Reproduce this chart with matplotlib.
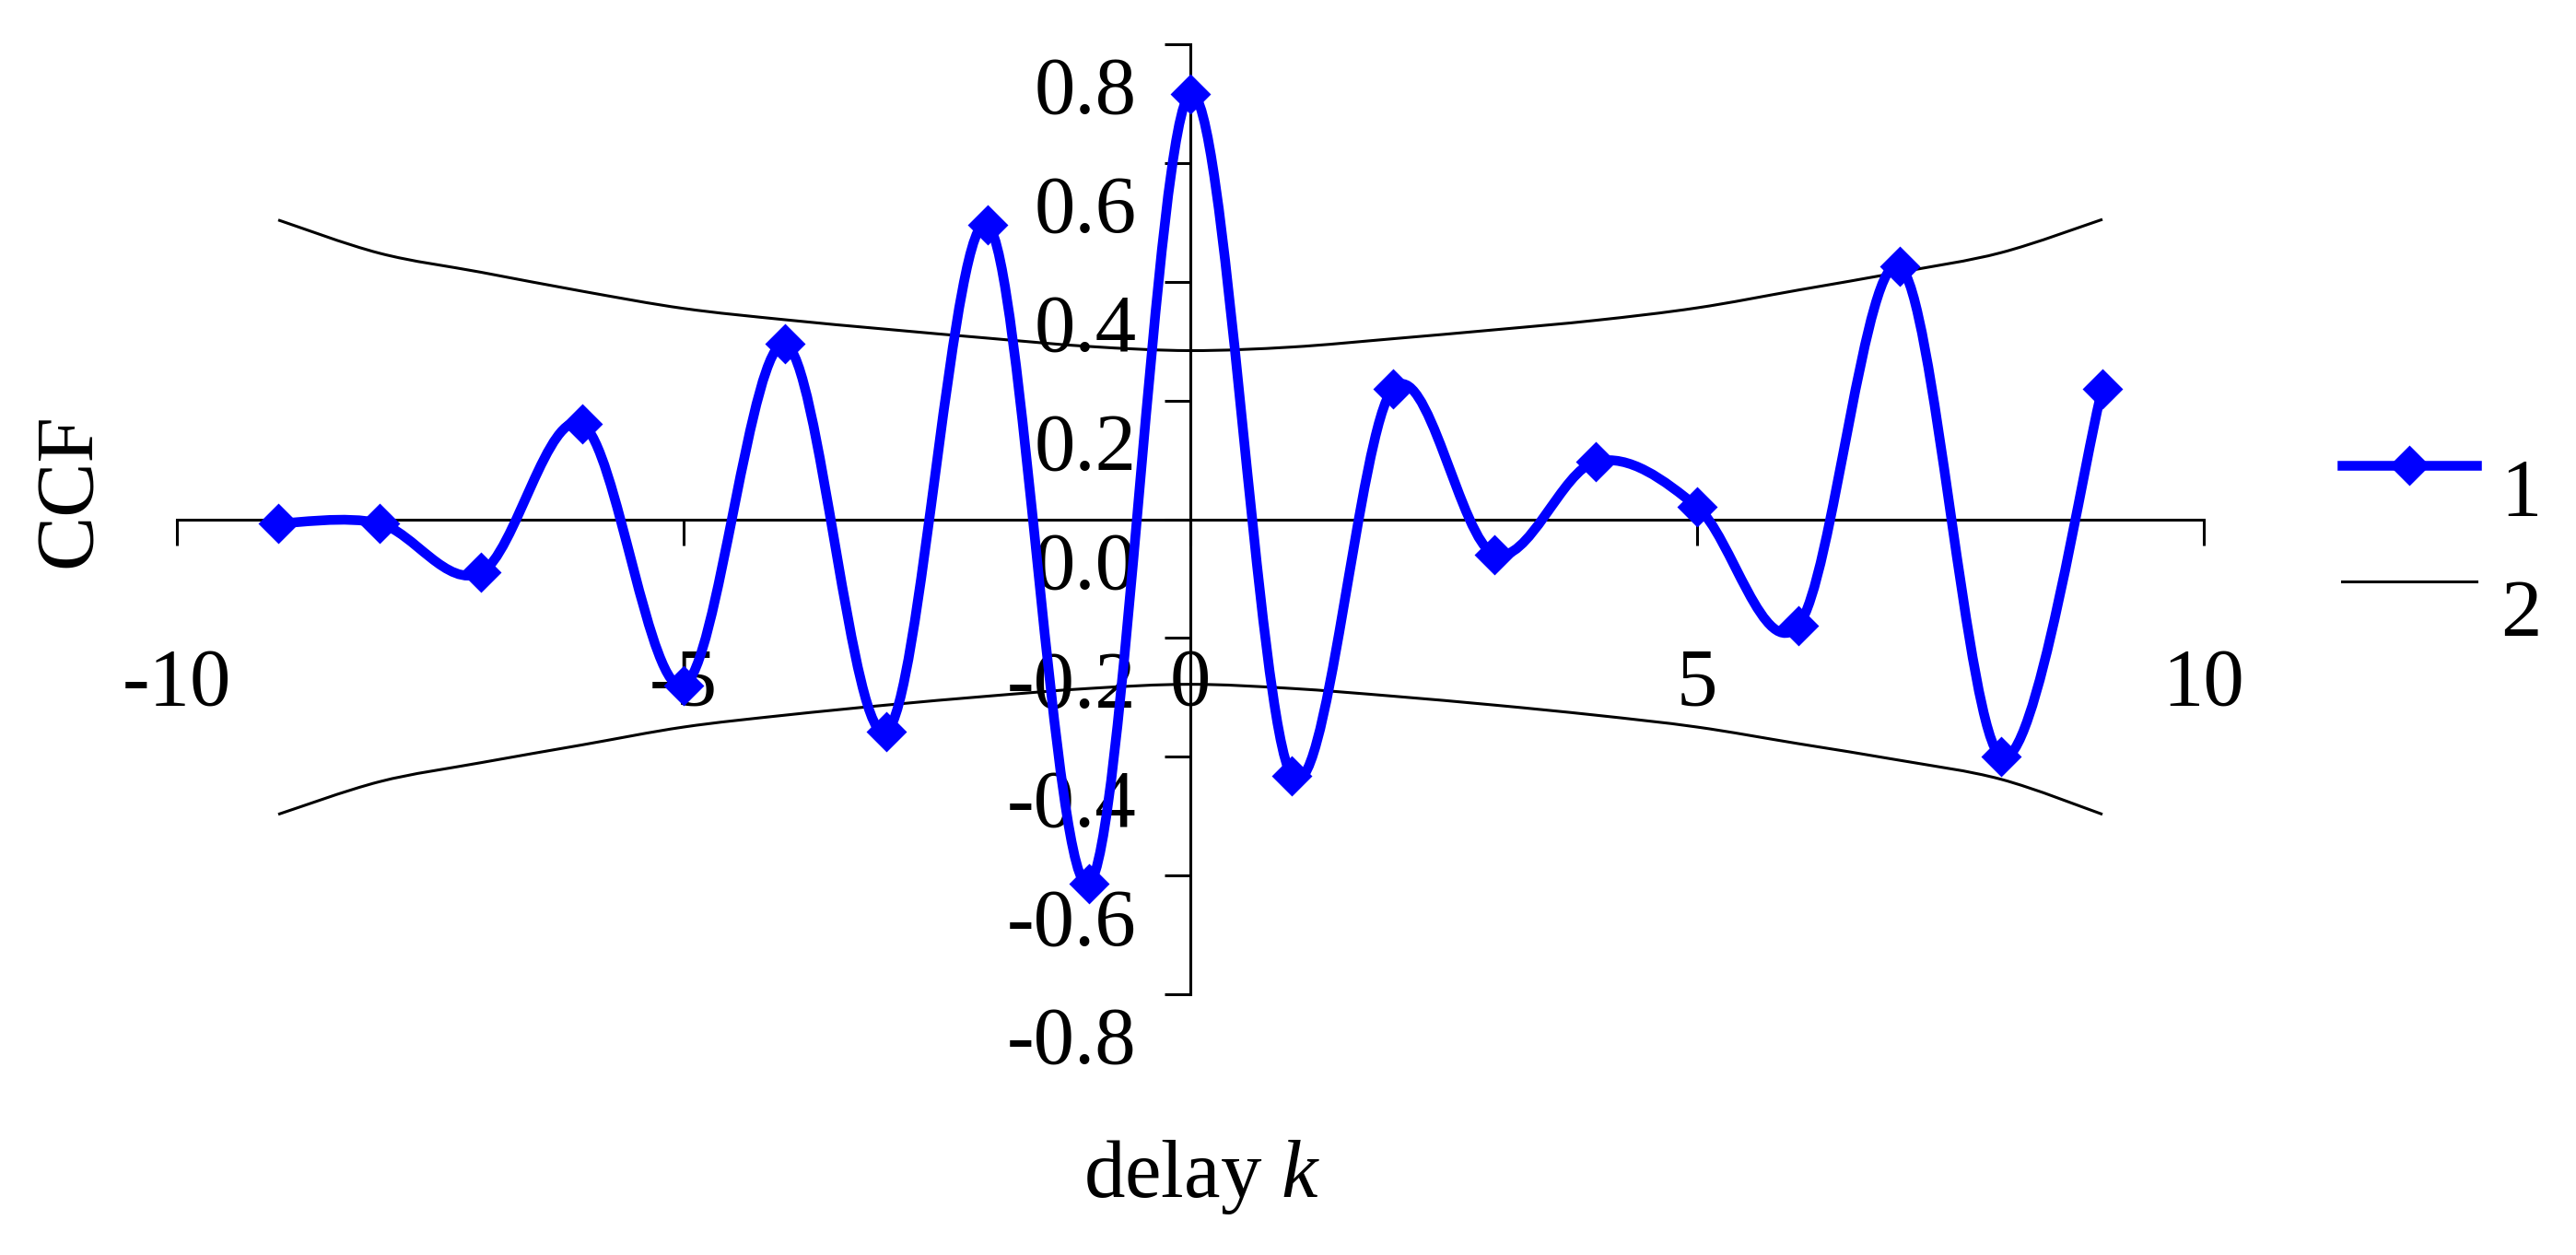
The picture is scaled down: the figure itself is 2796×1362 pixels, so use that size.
import matplotlib.pyplot as plt
import matplotlib.transforms as mtransforms
from matplotlib.path import Path
from matplotlib.patches import PathPatch
from matplotlib.lines import Line2D
import numpy as np

plt.rcParams['font.family'] = ['Liberation Serif', 'DejaVu Serif']
plt.rcParams['mathtext.fontset'] = 'custom'
plt.rcParams['mathtext.rm'] = 'Liberation Serif'
plt.rcParams['mathtext.it'] = 'Liberation Serif:italic'

# values
delay = [-9, -8, -7, -6, -5, -4, -3, -2, -1, 0, 1, 2, 3, 4, 5, 6, 7, 8, 9]
ccf = [-0.007, -0.007, -0.09, 0.16, -0.28, 0.295, -0.358, 0.496, -0.614, 0.716,
       -0.432, 0.22, -0.059, 0.097, 0.021, -0.179, 0.426, -0.40, 0.22]
band_upper = [0.504, 0.448, 0.416, 0.384, 0.355, 0.336, 0.320, 0.305, 0.291, 0.284,
              0.290, 0.304, 0.319, 0.335, 0.356, 0.386, 0.416, 0.449, 0.505]
band_lower = [-0.497, -0.442, -0.41, -0.38, -0.35, -0.33, -0.313, -0.298, -0.285, -0.278,
              -0.285, -0.298, -0.313, -0.33, -0.35, -0.378, -0.406, -0.438, -0.497]

x_ticks = [-10, -5, 0, 5, 10]
x_tick_labels = ["-10", "-5", "0", "5", "10"]
y_ticks = [-0.8, -0.6, -0.4, -0.2, 0.0, 0.2, 0.4, 0.6, 0.8]
y_tick_labels = ["-0.8", "-0.6", "-0.4", "-0.2", "0.0", "0.2", "0.4", "0.6", "0.8"]

W, H, DPI = 2796, 1362, 200
FS = 32
BLUE = "#0000FF"


def smooth_path(x, y):
    # Excel-like smoothed line: cubic bezier through every point
    pts = np.column_stack([x, y]).astype(float)
    n = len(pts)
    verts = [pts[0]]
    codes = [Path.MOVETO]
    for i in range(n - 1):
        p_prev = pts[max(i - 1, 0)]
        p_next2 = pts[min(i + 2, n - 1)]
        c1 = pts[i] + (pts[i + 1] - p_prev) / 6.0
        c2 = pts[i + 1] - (p_next2 - pts[i]) / 6.0
        verts += [c1, c2, pts[i + 1]]
        codes += [Path.CURVE4] * 3
    return Path(verts, codes)


fig = plt.figure(figsize=(W / DPI, H / DPI), dpi=DPI)
ax = fig.add_axes([192 / W, 1 - 1079 / H, 2200 / W, 1031 / H])

for band in (band_upper, band_lower):
    ax.add_patch(PathPatch(smooth_path(delay, band), fill=False, edgecolor="black",
                           linewidth=1.1, zorder=2, clip_on=False))
ax.add_patch(PathPatch(smooth_path(delay, ccf), fill=False, edgecolor=BLUE,
                       linewidth=3.8, zorder=3, clip_on=False, capstyle="round", joinstyle="round"))
ax.plot(delay, ccf, linestyle="none", marker="D", markersize=10, color=BLUE,
        zorder=4, clip_on=False)

ax.set_xlim(-10, 10)
ax.set_ylim(-0.8, 0.8)
ax.spines["left"].set_position(("data", 0))
ax.spines["bottom"].set_position(("data", 0))
ax.spines["top"].set_visible(False)
ax.spines["right"].set_visible(False)
ax.spines["left"].set_linewidth(1.1)
ax.spines["bottom"].set_linewidth(1.1)

ax.set_xticks(x_ticks)
ax.set_xticklabels(x_tick_labels)
ax.set_yticks(y_ticks)
ax.set_yticklabels(y_tick_labels)
ax.tick_params(axis="x", direction="out", length=10, width=1.1, pad=40, labelsize=FS)
ax.tick_params(axis="y", direction="out", length=10, width=1.1, pad=11, labelsize=FS)

# y labels sit a bit below their ticks in the original
shift = mtransforms.ScaledTranslation(0, -44 / DPI, fig.dpi_scale_trans)
for lab in ax.get_yticklabels():
    lab.set_transform(lab.get_transform() + shift)

fig.text(75 / W, 1 - 532 / H, "CCF", rotation=90, ha="center", va="center", fontsize=FS)
fig.text(1305 / W, 1 - 1278 / H, "delay $k$", ha="center", va="center", fontsize=FS)

# legend drawn by hand (labels sit below-right of the keys)
fig.add_artist(Line2D([2542 / W, 2688 / W], [1 - 505 / H, 1 - 505 / H], color=BLUE,
                      linewidth=3.8))
fig.add_artist(Line2D([2615 / W], [1 - 505 / H], color=BLUE, marker="D", markersize=10))
fig.add_artist(Line2D([2542 / W, 2688 / W], [1 - 631 / H, 1 - 631 / H], color="black",
                      linewidth=1.1))
fig.text(2714 / W, 1 - 538 / H, "1", ha="left", va="center", fontsize=FS)
fig.text(2714 / W, 1 - 668 / H, "2", ha="left", va="center", fontsize=FS)

fig.savefig("out.png", dpi=DPI, facecolor="white")
